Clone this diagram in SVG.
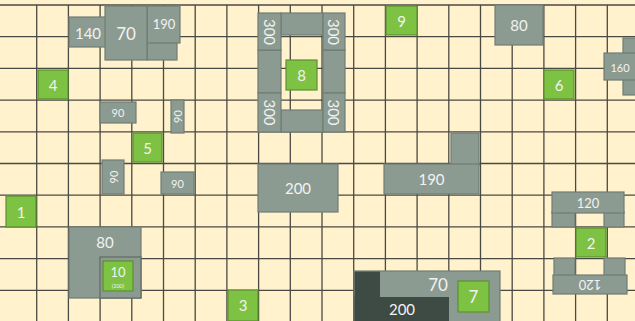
<svg xmlns="http://www.w3.org/2000/svg" width="635" height="321" viewBox="0 0 635 321">
<style>
.bg{fill:#fff2cc}
.grid line{stroke:#4a4a44;stroke-width:1.3}
.g{fill:#8c9b91;stroke:#6f7c73;stroke-width:1.2}
.gd{fill:#3e4a44;stroke:none}
.gn{fill:#7dc242;stroke:#5e8f33;stroke-width:1.2}
text{font-family:Lato,"Open Sans","Liberation Sans",sans-serif;fill:#f2f2f2;text-anchor:middle;dominant-baseline:central}
.s15{font-size:15px}.s13{font-size:13px}.s11{font-size:11px}.s17{font-size:17px}
</style>
<rect class="bg" x="0" y="0" width="635" height="321"/>
<g class="grid">
<line x1="0" y1="5" x2="635" y2="5"/>
<line x1="0" y1="36.7" x2="635" y2="36.7"/>
<line x1="0" y1="68.4" x2="635" y2="68.4"/>
<line x1="0" y1="100.1" x2="635" y2="100.1"/>
<line x1="0" y1="131.8" x2="635" y2="131.8"/>
<line x1="0" y1="163.5" x2="635" y2="163.5"/>
<line x1="0" y1="195.2" x2="635" y2="195.2"/>
<line x1="0" y1="226.9" x2="635" y2="226.9"/>
<line x1="0" y1="258.6" x2="635" y2="258.6"/>
<line x1="0" y1="290.3" x2="635" y2="290.3"/>
<line x1="36.7" y1="5" x2="36.7" y2="321"/>
<line x1="68.4" y1="5" x2="68.4" y2="321"/>
<line x1="100.1" y1="5" x2="100.1" y2="321"/>
<line x1="131.8" y1="5" x2="131.8" y2="321"/>
<line x1="163.5" y1="5" x2="163.5" y2="321"/>
<line x1="195.2" y1="5" x2="195.2" y2="321"/>
<line x1="226.9" y1="5" x2="226.9" y2="321"/>
<line x1="258.6" y1="5" x2="258.6" y2="321"/>
<line x1="290.3" y1="5" x2="290.3" y2="321"/>
<line x1="322" y1="5" x2="322" y2="321"/>
<line x1="353.7" y1="5" x2="353.7" y2="321"/>
<line x1="385.4" y1="5" x2="385.4" y2="321"/>
<line x1="417.1" y1="5" x2="417.1" y2="321"/>
<line x1="448.8" y1="5" x2="448.8" y2="321"/>
<line x1="480.5" y1="5" x2="480.5" y2="321"/>
<line x1="512.2" y1="5" x2="512.2" y2="321"/>
<line x1="543.9" y1="5" x2="543.9" y2="321"/>
<line x1="575.6" y1="5" x2="575.6" y2="321"/>
<line x1="607.3" y1="5" x2="607.3" y2="321"/>
</g>
<g id="n140"><rect class="g" x="69" y="17" width="38" height="30"/><text class="s15" x="88" y="33">140</text></g>
<g id="n190a"><rect class="g" x="147" y="42" width="30" height="18"/><rect class="g" x="147" y="6" width="33" height="37"/><text class="s13" x="164" y="24">190</text></g>
<g id="n70a"><rect class="g" x="105" y="6" width="42" height="54"/><text class="s17" x="126" y="33">70</text></g>
<g id="n4"><rect class="gn" x="38" y="70" width="30" height="29"/><text class="s15" x="53" y="85">4</text></g>
<g id="frame300">
<rect class="g" x="281" y="13" width="42" height="22"/>
<rect class="g" x="281" y="110" width="42" height="22"/>
<rect class="g" x="258" y="50" width="23" height="43"/>
<rect class="g" x="323" y="50" width="22" height="43"/>
<rect class="g" x="258" y="13" width="23" height="37"/>
<rect class="g" x="323" y="13" width="22" height="37"/>
<rect class="g" x="258" y="93" width="23" height="39"/>
<rect class="g" x="323" y="93" width="22" height="39"/>
<text class="s15" transform="translate(269.5,32) rotate(90)">300</text>
<text class="s15" transform="translate(334,32) rotate(90)">300</text>
<text class="s15" transform="translate(269.5,112.5) rotate(90)">300</text>
<text class="s15" transform="translate(334,112.5) rotate(90)">300</text>
</g>
<g id="n8"><rect class="gn" x="286" y="60" width="31" height="30"/><text class="s15" x="301.5" y="75">8</text></g>
<g id="n9"><rect class="gn" x="386" y="6" width="31" height="29"/><text class="s15" x="401.5" y="21">9</text></g>
<g id="n80a"><rect class="g" x="495" y="5" width="48" height="40"/><text class="s15" x="519" y="25">80</text></g>
<g id="n6"><rect class="gn" x="544" y="70" width="30" height="29"/><text class="s15" x="559" y="85">6</text></g>
<g id="n160"><rect class="g" x="623" y="38" width="14" height="57"/><rect class="g" x="604" y="53" width="33" height="27"/><text class="s11" x="620" y="67">160</text></g>
<g id="n90a"><rect class="g" x="100" y="102" width="36" height="21"/><text class="s11" x="118" y="112.5">90</text></g>
<g id="n90b"><rect class="g" x="171" y="100" width="13" height="33"/><text class="s11" transform="translate(177.5,116.5) rotate(-90)">90</text></g>
<g id="n5"><rect class="gn" x="133" y="133" width="29" height="29"/><text class="s15" x="147.5" y="147.5">5</text></g>
<g id="n90c"><rect class="g" x="102" y="160" width="22" height="34"/><text class="s11" transform="translate(113,177) rotate(-90)">90</text></g>
<g id="n90d"><rect class="g" x="161" y="172" width="33" height="22"/><text class="s11" x="177.5" y="183">90</text></g>
<g id="n1"><rect class="gn" x="6" y="196" width="30" height="31"/><text class="s15" x="21" y="211.5">1</text></g>
<g id="n200a"><rect class="g" x="258" y="164" width="80" height="48"/><text class="s15" x="298" y="188">200</text></g>
<g id="n190b"><rect class="g" x="451" y="133" width="28" height="32"/><rect class="g" x="384" y="164" width="95" height="30"/><text class="s15" x="431.5" y="179">190</text></g>
<g id="n120a"><rect class="g" x="552" y="212" width="23" height="15"/><rect class="g" x="604" y="212" width="20" height="15"/><rect class="g" x="552" y="192" width="72" height="21"/><text class="s13" x="588" y="202.5">120</text></g>
<g id="n2"><rect class="gn" x="576" y="228" width="30" height="29"/><text class="s15" x="591" y="242.5">2</text></g>
<g id="n120b"><rect class="g" x="554" y="258" width="21" height="18"/><rect class="g" x="604" y="258" width="21" height="18"/><rect class="g" x="553" y="275" width="74" height="19"/><text class="s13" transform="translate(590,284.5) rotate(180)">120</text></g>
<g id="n80b"><rect class="g" x="69" y="227" width="72" height="71"/><text class="s15" x="105" y="242">80</text></g>
<g id="n10"><rect class="g" x="100" y="257" width="41" height="41" style="stroke:#5f6b63"/><rect class="gn" x="103" y="261" width="30" height="30"/><text class="s13" x="118" y="271.5">10</text><text x="118" y="285.5" style="font-size:5.5px">(200)</text></g>
<g id="n3"><rect class="gn" x="228" y="290" width="30" height="31"/><text class="s15" x="243" y="305">3</text></g>
<g id="n70b"><rect class="g" x="354" y="271" width="146" height="51"/><rect class="gd" x="354.6" y="271.6" width="25.4" height="50"/><rect class="gd" x="354.6" y="297" width="94.4" height="25"/><text class="s17" x="438" y="284">70</text><text class="s15" x="402" y="309">200</text></g>
<g id="n7"><rect class="gn" x="458" y="281" width="31" height="31"/><text class="s17" x="473.5" y="296.5">7</text></g>
</svg>
